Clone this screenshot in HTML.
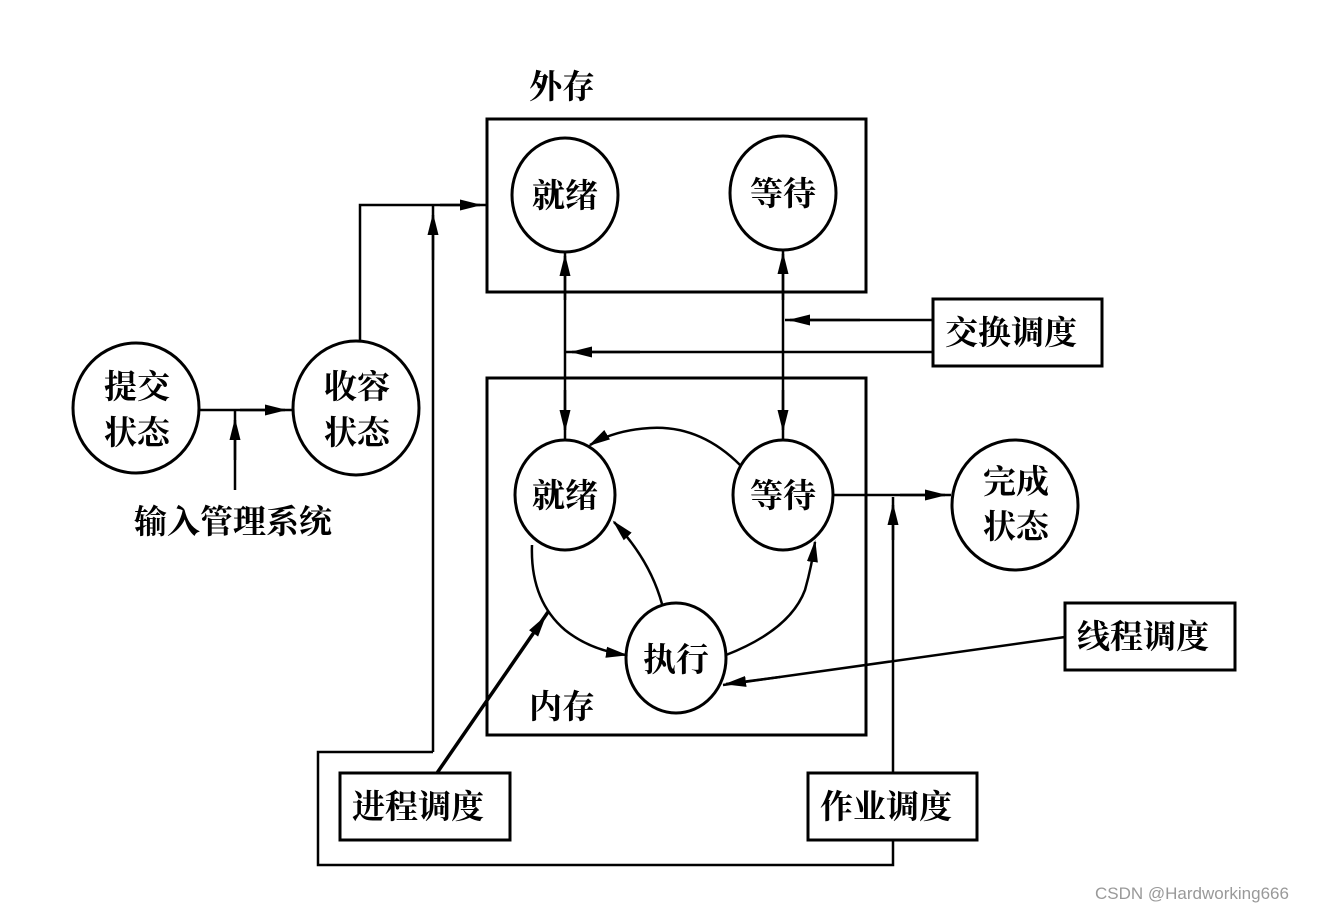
<!DOCTYPE html>
<html><head><meta charset="utf-8"><style>
html,body{margin:0;padding:0;background:#fff;width:1325px;height:913px;overflow:hidden}
text{font-family:"Liberation Serif","Noto Serif CJK SC",serif;font-weight:bold;font-size:33px;fill:#000}
</style></head><body>
<svg width="1325" height="913" viewBox="0 0 1325 913" xmlns="http://www.w3.org/2000/svg">
<defs>
<marker id="a" markerWidth="22" markerHeight="12" refX="20" refY="6" orient="auto" markerUnits="userSpaceOnUse">
<path d="M0,0.5 L22,6 L0,11.5 z" fill="#000"/></marker>
</defs>
<g fill="none" stroke="#000" stroke-width="3">
<rect x="487" y="119" width="379" height="173"/>
<rect x="487" y="378" width="379" height="357"/>
<ellipse cx="136" cy="408" rx="63" ry="65"/>
<ellipse cx="356" cy="408" rx="63" ry="67"/>
<ellipse cx="565" cy="195" rx="53" ry="57"/>
<ellipse cx="783" cy="193" rx="53" ry="57"/>
<ellipse cx="565" cy="495" rx="50" ry="55"/>
<ellipse cx="783" cy="495" rx="50" ry="55"/>
<ellipse cx="676" cy="658" rx="50" ry="55"/>
<ellipse cx="1015" cy="505" rx="63" ry="65"/>
<rect x="933" y="299" width="169" height="67"/>
<rect x="1065" y="603" width="170" height="67"/>
<rect x="340" y="773" width="170" height="67"/>
<rect x="808" y="773" width="169" height="67"/>
</g>
<g fill="none" stroke="#000" stroke-width="2.5">
<line x1="199" y1="410" x2="293" y2="410"/>
<line x1="240" y1="410" x2="285" y2="410" marker-end="url(#a)"/>
<line x1="235" y1="490" x2="235" y2="410"/>
<line x1="235" y1="460" x2="235" y2="420" marker-end="url(#a)"/>
<polyline points="360,340 360,205 487,205"/>
<line x1="440" y1="205" x2="480" y2="205" marker-end="url(#a)"/>
<line x1="433" y1="752" x2="433" y2="205"/>
<line x1="433" y1="260" x2="433" y2="215" marker-end="url(#a)"/>
<polyline points="433,752 318,752 318,865 893,865 893,840"/>
<line x1="893" y1="773" x2="893" y2="497"/>
<line x1="893" y1="540" x2="893" y2="505" marker-end="url(#a)"/>
<line x1="833" y1="495" x2="951" y2="495"/>
<line x1="900" y1="495" x2="945" y2="495" marker-end="url(#a)"/>
<line x1="565" y1="252" x2="565" y2="440"/>
<line x1="565" y1="300" x2="565" y2="256" marker-end="url(#a)"/>
<line x1="565" y1="390" x2="565" y2="430" marker-end="url(#a)"/>
<line x1="783" y1="250" x2="783" y2="440"/>
<line x1="783" y1="300" x2="783" y2="254" marker-end="url(#a)"/>
<line x1="783" y1="390" x2="783" y2="430" marker-end="url(#a)"/>
<line x1="933" y1="320" x2="785" y2="320"/>
<line x1="860" y1="320" x2="790" y2="320" marker-end="url(#a)"/>
<line x1="933" y1="352" x2="565" y2="352"/>
<line x1="640" y1="352" x2="572" y2="352" marker-end="url(#a)"/>
<line x1="1065" y1="637" x2="723" y2="685"/>
<line x1="780" y1="677" x2="726" y2="684" marker-end="url(#a)"/>
<line x1="437" y1="773" x2="548" y2="612" stroke-width="3.5"/>
<line x1="520" y1="653" x2="545" y2="617" marker-end="url(#a)"/>
<path d="M740,465 Q700,425 650,428 Q615,430 590,445" marker-end="url(#a)"/>
<path d="M532,545 Q530,600 565,630 Q590,650 626,655" marker-end="url(#a)"/>
<path d="M662,604 Q650,560 614,522" marker-end="url(#a)"/>
<path d="M726,655 Q790,630 805,590 Q812,565 815,542" marker-end="url(#a)"/>
</g>
<text x="529" y="98">外存</text>
<text x="529" y="718">内存</text>
<text x="104" y="398">提交</text><text x="104" y="444">状态</text>
<text x="324" y="398">收容</text><text x="324" y="444">状态</text>
<text x="532" y="207">就绪</text>
<text x="750" y="205">等待</text>
<text x="532" y="507">就绪</text>
<text x="750" y="507">等待</text>
<text x="643" y="671">执行</text>
<text x="983" y="493">完成</text><text x="983" y="538">状态</text>
<text x="134" y="533">输入管理系统</text>
<text x="945" y="344">交换调度</text>
<text x="1077" y="648">线程调度</text>
<text x="352" y="818">进程调度</text>
<text x="820" y="818">作业调度</text>
<text x="1095" y="899" style="font-family:'Liberation Sans',sans-serif;font-weight:normal;font-size:17px;fill:#999">CSDN @Hardworking666</text>
</svg>
</body></html>
